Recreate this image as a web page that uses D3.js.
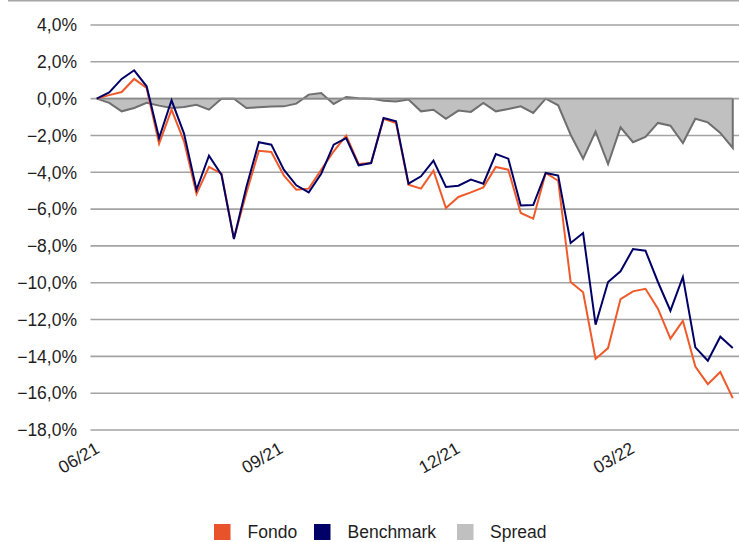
<!DOCTYPE html>
<html>
<head>
<meta charset="utf-8">
<script src="https://cdn.jsdelivr.net/npm/d3@7"></script>
<style>
html,body{margin:0;padding:0;background:#fff;}
svg{display:block;font-family:"Liberation Sans",Arial,sans-serif;}
</style>
</head>
<body>
<svg id="c" width="739" height="542"></svg>
<script>
// ---- data (weekly cumulative returns, %) ----
const fondo = [0,0.19,0.36,1.07,0.58,-2.45,-0.60,-2.32,-5.18,-3.71,-4.08,-7.60,-5.13,-2.83,-2.90,-4.17,-4.95,-4.89,-3.86,-2.86,-2.01,-3.55,-3.50,-1.10,-1.32,-4.67,-4.89,-3.91,-5.94,-5.34,-5.09,-4.82,-3.71,-3.86,-6.21,-6.52,-4.04,-4.46,-9.96,-10.52,-14.14,-13.55,-10.89,-10.47,-10.33,-11.41,-13.04,-12.07,-14.55,-15.51,-14.85,-16.27];
const benchmark = [0,0.34,1.07,1.54,0.67,-2.14,-0.09,-1.90,-4.95,-3.10,-4.13,-7.63,-4.80,-2.37,-2.50,-3.86,-4.71,-5.09,-4.08,-2.50,-2.14,-3.62,-3.50,-1.05,-1.23,-4.62,-4.22,-3.37,-4.80,-4.73,-4.40,-4.62,-3.01,-3.26,-5.80,-5.78,-4.04,-4.18,-7.84,-7.30,-12.28,-9.96,-9.38,-8.17,-8.26,-9.96,-11.52,-9.69,-13.51,-14.24,-12.93,-13.55];
const spread = [0,-0.23,-0.69,-0.51,-0.23,-0.38,-0.51,-0.45,-0.33,-0.60,0,0,-0.51,-0.47,-0.43,-0.42,-0.27,0.22,0.31,-0.29,0.09,0.02,0,-0.11,-0.15,-0.05,-0.69,-0.60,-1.10,-0.65,-0.72,-0.23,-0.69,-0.56,-0.42,-0.78,0,-0.36,-1.96,-3.26,-1.79,-3.55,-1.56,-2.37,-2.08,-1.32,-1.47,-2.41,-1.09,-1.29,-1.86,-2.68];
const yTicks = [4,2,0,-2,-4,-6,-8,-10,-12,-14,-16,-18];
const xTickLabels = ["06/21","09/21","12/21","03/22"];
const xTickPos = [0, 14.7, 28.9, 42.9];   // position in weeks from first point
const legendItems = [
  {name:"Fondo", color:"#E8532B"},
  {name:"Benchmark", color:"#000066"},
  {name:"Spread", color:"#C0C0C0"}
];

// ---- layout ----
const svg = d3.select("#c");
const n = fondo.length;
const x = d3.scaleLinear().domain([-0.5, n - 0.5]).range([90.5, 739]);
const y = d3.scaleLinear().domain([-18, 4]).range([430, 25]);
const fmt = v => d3.format(".1f")(v).replace(".", ",") + "%";

// top frame line
svg.append("line").attr("x1",8).attr("x2",739).attr("y1",0.75).attr("y2",0.75)
  .attr("stroke","#a6a6a6").attr("stroke-width",1.5);

// gridlines + y labels
const g = svg.append("g");
yTicks.forEach(t => {
  g.append("line").attr("x1",90.5).attr("x2",739)
    .attr("y1",y(t)).attr("y2",y(t))
    .attr("stroke","#a3a3a3").attr("stroke-width",1.6);
  g.append("text").attr("x",77).attr("y",y(t)).attr("dy","0.36em")
    .attr("text-anchor","end").attr("font-size",17.5).attr("fill","#1e1e1e")
    .text(fmt(t));
});

// spread area
const idx = d3.range(n);
const area = d3.area().x(i => x(i)).y0(y(0)).y1(i => y(spread[i]));
svg.append("path").datum(idx).attr("d", area)
  .attr("fill","#C0C0C0").attr("stroke","none");
svg.append("path").datum(idx)
  .attr("d", d3.line().x(i => x(i)).y(i => y(spread[i]))(idx) + "L" + x(n-1) + "," + y(0))
  .attr("fill","none").attr("stroke","#6f6f6f").attr("stroke-width",2);
svg.append("line").attr("x1",x(0)).attr("x2",x(n-1)).attr("y1",y(0)).attr("y2",y(0))
  .attr("stroke","#8a8a8a").attr("stroke-width",1.8);

// lines
const line = arr => d3.line().x(i => x(i)).y(i => y(arr[i]))(idx);
svg.append("path").attr("d", line(fondo)).attr("fill","none")
  .attr("stroke","#F05A2A").attr("stroke-width",2).attr("stroke-linejoin","miter");
svg.append("path").attr("d", line(benchmark)).attr("fill","none")
  .attr("stroke","#000066").attr("stroke-width",2).attr("stroke-linejoin","miter");

// x labels
xTickPos.forEach((p, k) => {
  const px = x(p) + 4, py = 452;
  svg.append("text").attr("transform",`translate(${px},${py}) rotate(-30)`)
    .attr("text-anchor","end").attr("font-size",17.5).attr("fill","#1e1e1e")
    .text(xTickLabels[k]);
});

// legend
const legX = [214, 314, 457];
const textX = [247.5, 347.5, 490];
legendItems.forEach((d, k) => {
  svg.append("rect").attr("x",legX[k]).attr("y",524).attr("width",16.5).attr("height",16)
    .attr("fill",d.color);
  svg.append("text").attr("x",textX[k]).attr("y",537.5).attr("font-size",17.5)
    .attr("fill","#1e1e1e").text(d.name);
});
</script>
</body>
</html>
